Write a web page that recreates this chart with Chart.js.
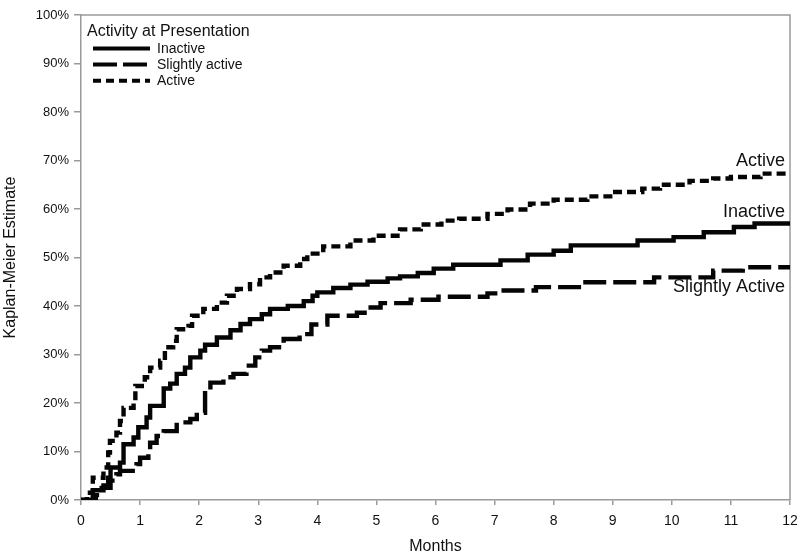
<!DOCTYPE html>
<html>
<head>
<meta charset="utf-8">
<script src="https://cdn.jsdelivr.net/npm/chart.js@4"></script>
<style>
  html, body { margin: 0; padding: 0; background: #fff; }
  #wrap { width: 800px; height: 556px; }
</style>
</head>
<body>
<div id="wrap"><canvas id="c" width="800" height="556"></canvas></div>
<script>
// ---- data ----
const xTicks = [0,1,2,3,4,5,6,7,8,9,10,11,12];
const yTicks = [0,10,20,30,40,50,60,70,80,90,100];

const inactiveT = [0,0.2,0.38,0.46,0.5,0.66,0.72,0.89,0.97,1.11,1.17,1.4,1.51,1.62,1.76,1.85,2.02,2.1,2.3,2.53,2.7,2.86,3.06,3.2,3.5,3.77,3.92,4.0,4.27,4.56,4.85,5.19,5.4,5.7,5.97,6.3,7.1,7.56,8.0,8.29,9.42,10.03,10.54,11.05,11.4,12];
const inactiveV = [0,2,3,4.6,6.7,7.7,11.5,12.9,15,17,19.4,23,24,26,27.3,29.4,30.8,32,33.5,35,36.3,37.3,38.3,39.4,40,41,42.1,42.8,43.7,44.4,45,45.7,46.1,46.8,47.7,48.5,49.4,50.6,51.4,52.5,53.5,54.2,55.2,56.3,57,57];

const slightT = [0,0.25,0.35,0.5,0.6,0.66,0.94,1.0,1.14,1.17,1.28,1.4,1.62,1.85,1.96,2.1,2.19,2.41,2.58,2.8,2.95,3.06,3.2,3.43,3.7,3.9,4.17,4.67,4.85,5.07,5.58,6.05,6.88,7.1,7.7,8.5,9.7,10.7,11.2,12];
const slightV = [0,1,2.5,4,5.3,6,7.4,8.7,9.8,11.8,13.2,14.2,16,16.7,18,22.5,24.2,25.3,26,27.7,29.4,30.8,31.5,33.2,34.2,36.2,38,38.6,39.7,40.6,41.3,41.9,42.6,43.2,43.9,44.9,45.9,47.3,48,48];

const activeT = [0,0.1,0.2,0.38,0.46,0.49,0.6,0.66,0.72,0.89,0.92,1.08,1.17,1.34,1.42,1.56,1.62,1.82,1.88,2.07,2.3,2.47,2.64,2.86,3.03,3.2,3.43,3.71,3.83,4.1,4.56,4.95,5.4,5.75,6.1,6.4,6.88,7.22,7.6,8.0,8.57,9.0,9.5,9.8,10.3,10.7,11.0,11.5,12];
const activeV = [0,1.5,4.6,6.7,9.8,12.2,13.9,16.3,19,20.4,23.5,25.3,27.3,28.7,31.5,32.8,35.2,35.9,38,39.4,40.7,42.1,43.5,44.5,45.9,46.9,48.3,49.7,50.8,52.3,53.5,54.5,55.8,56.8,57.6,58,59,59.9,61.1,61.9,62.6,63.5,64.2,65,65.8,66.3,66.6,67.3,67.3];

const seriesNames = ['Inactive','Slightly active','Active'];
const endLabels = ['Inactive','Slightly Active','Active'];
const legendTitle = 'Activity at Presentation';
const xTitle = 'Months';
const yTitle = 'Kaplan-Meier Estimate';

// ---- build ----
const FONT = '"Liberation Sans", Arial, Helvetica, sans-serif';
const AXIS = '#9a9a9a';
const TXT = '#111111';
const LINE = '#050505';

function pts(t, v) { return t.map((x, i) => ({ x: x, y: v[i] })); }

const dashes = [[], [23, 7], [9, 5]];
const legendDashes = [[], [24, 6], [8, 5]];
const labelOffsets = [-12, 20, -13];

const datasets = [
  { label: seriesNames[0], data: pts(inactiveT, inactiveV), borderDash: dashes[0] },
  { label: seriesNames[1], data: pts(slightT, slightV), borderDash: dashes[1] },
  { label: seriesNames[2], data: pts(activeT, activeV), borderDash: dashes[2] }
].map(d => Object.assign(d, {
  borderColor: LINE, borderWidth: 4.4, pointRadius: 0, stepped: true,
  fill: false, tension: 0, borderCapStyle: 'butt', borderJoinStyle: 'miter'
}));

const framePlugin = {
  id: 'frame',
  beforeDatasetsDraw(chart) {
    const { ctx, chartArea: a } = chart;
    ctx.save();
    ctx.strokeStyle = AXIS;
    ctx.lineWidth = 1.5;
    ctx.beginPath();
    ctx.moveTo(a.left, a.top); ctx.lineTo(a.right, a.top); ctx.lineTo(a.right, a.bottom);
    ctx.stroke();
    ctx.restore();
  },
  afterDatasetsDraw(chart) {
    const { ctx, chartArea: a, scales } = chart;
    ctx.save();
    // legend
    ctx.fillStyle = TXT;
    ctx.textBaseline = 'middle';
    ctx.textAlign = 'left';
    ctx.font = '16px ' + FONT;
    ctx.fillText(legendTitle, a.left + 6, 32);
    ctx.font = '14px ' + FONT;
    const rowY = [48.5, 64.5, 80.7];
    chart.data.datasets.forEach((ds, i) => {
      ctx.strokeStyle = LINE;
      ctx.lineWidth = 4;
      ctx.setLineDash(legendDashes[i]);
      ctx.beginPath();
      ctx.moveTo(a.left + 12, rowY[i]);
      ctx.lineTo(a.left + 69, rowY[i]);
      ctx.stroke();
      ctx.setLineDash([]);
      ctx.fillStyle = TXT;
      ctx.fillText(ds.label, a.left + 76, rowY[i] + 0.5);
    });
    // end labels
    ctx.font = '18px ' + FONT;
    ctx.textAlign = 'right';
    chart.data.datasets.forEach((ds, i) => {
      const last = ds.data[ds.data.length - 1];
      const y = scales.y.getPixelForValue(last.y) + labelOffsets[i];
      ctx.fillText(endLabels[i], a.right - 5, y);
    });
    ctx.restore();
  }
};

new Chart(document.getElementById('c'), {
  type: 'line',
  data: { datasets },
  plugins: [framePlugin],
  options: {
    responsive: false,
    animation: false,
    events: [],
    layout: { padding: { top: 15, right: 10, left: 0, bottom: 0 } },
    plugins: { legend: { display: false }, tooltip: { enabled: false } },
    scales: {
      x: {
        type: 'linear', min: 0, max: 12,
        afterBuildTicks: s => { s.ticks = xTicks.map(v => ({ value: v })); },
        ticks: { color: TXT, font: { family: FONT, size: 14 }, padding: 8, maxRotation: 0, autoSkip: false },
        grid: { drawOnChartArea: false, drawTicks: true, tickLength: 5, color: AXIS, lineWidth: 1.5 },
        border: { color: AXIS, width: 1.5 },
        title: { display: true, text: xTitle, color: TXT, font: { family: FONT, size: 16 }, padding: { top: 0, bottom: 0 } },
        afterFit: s => { s.height = 56; s.paddingRight = 0; s.paddingLeft = 0; }
      },
      y: {
        type: 'linear', min: 0, max: 100,
        afterBuildTicks: s => { s.ticks = yTicks.map(v => ({ value: v })); },
        ticks: { color: TXT, font: { family: FONT, size: 13 }, padding: 5, callback: v => v + '%' },
        grid: { drawOnChartArea: false, drawTicks: true, tickLength: 7, color: AXIS, lineWidth: 1.5 },
        border: { color: AXIS, width: 1.5 },
        title: { display: true, text: yTitle, color: TXT, font: { family: FONT, size: 16 }, padding: { top: 1, bottom: 0 } },
        afterFit: s => { s.width = 81; s.paddingTop = 0; s.paddingBottom = 0; }
      }
    }
  }
});
</script>
</body>
</html>
